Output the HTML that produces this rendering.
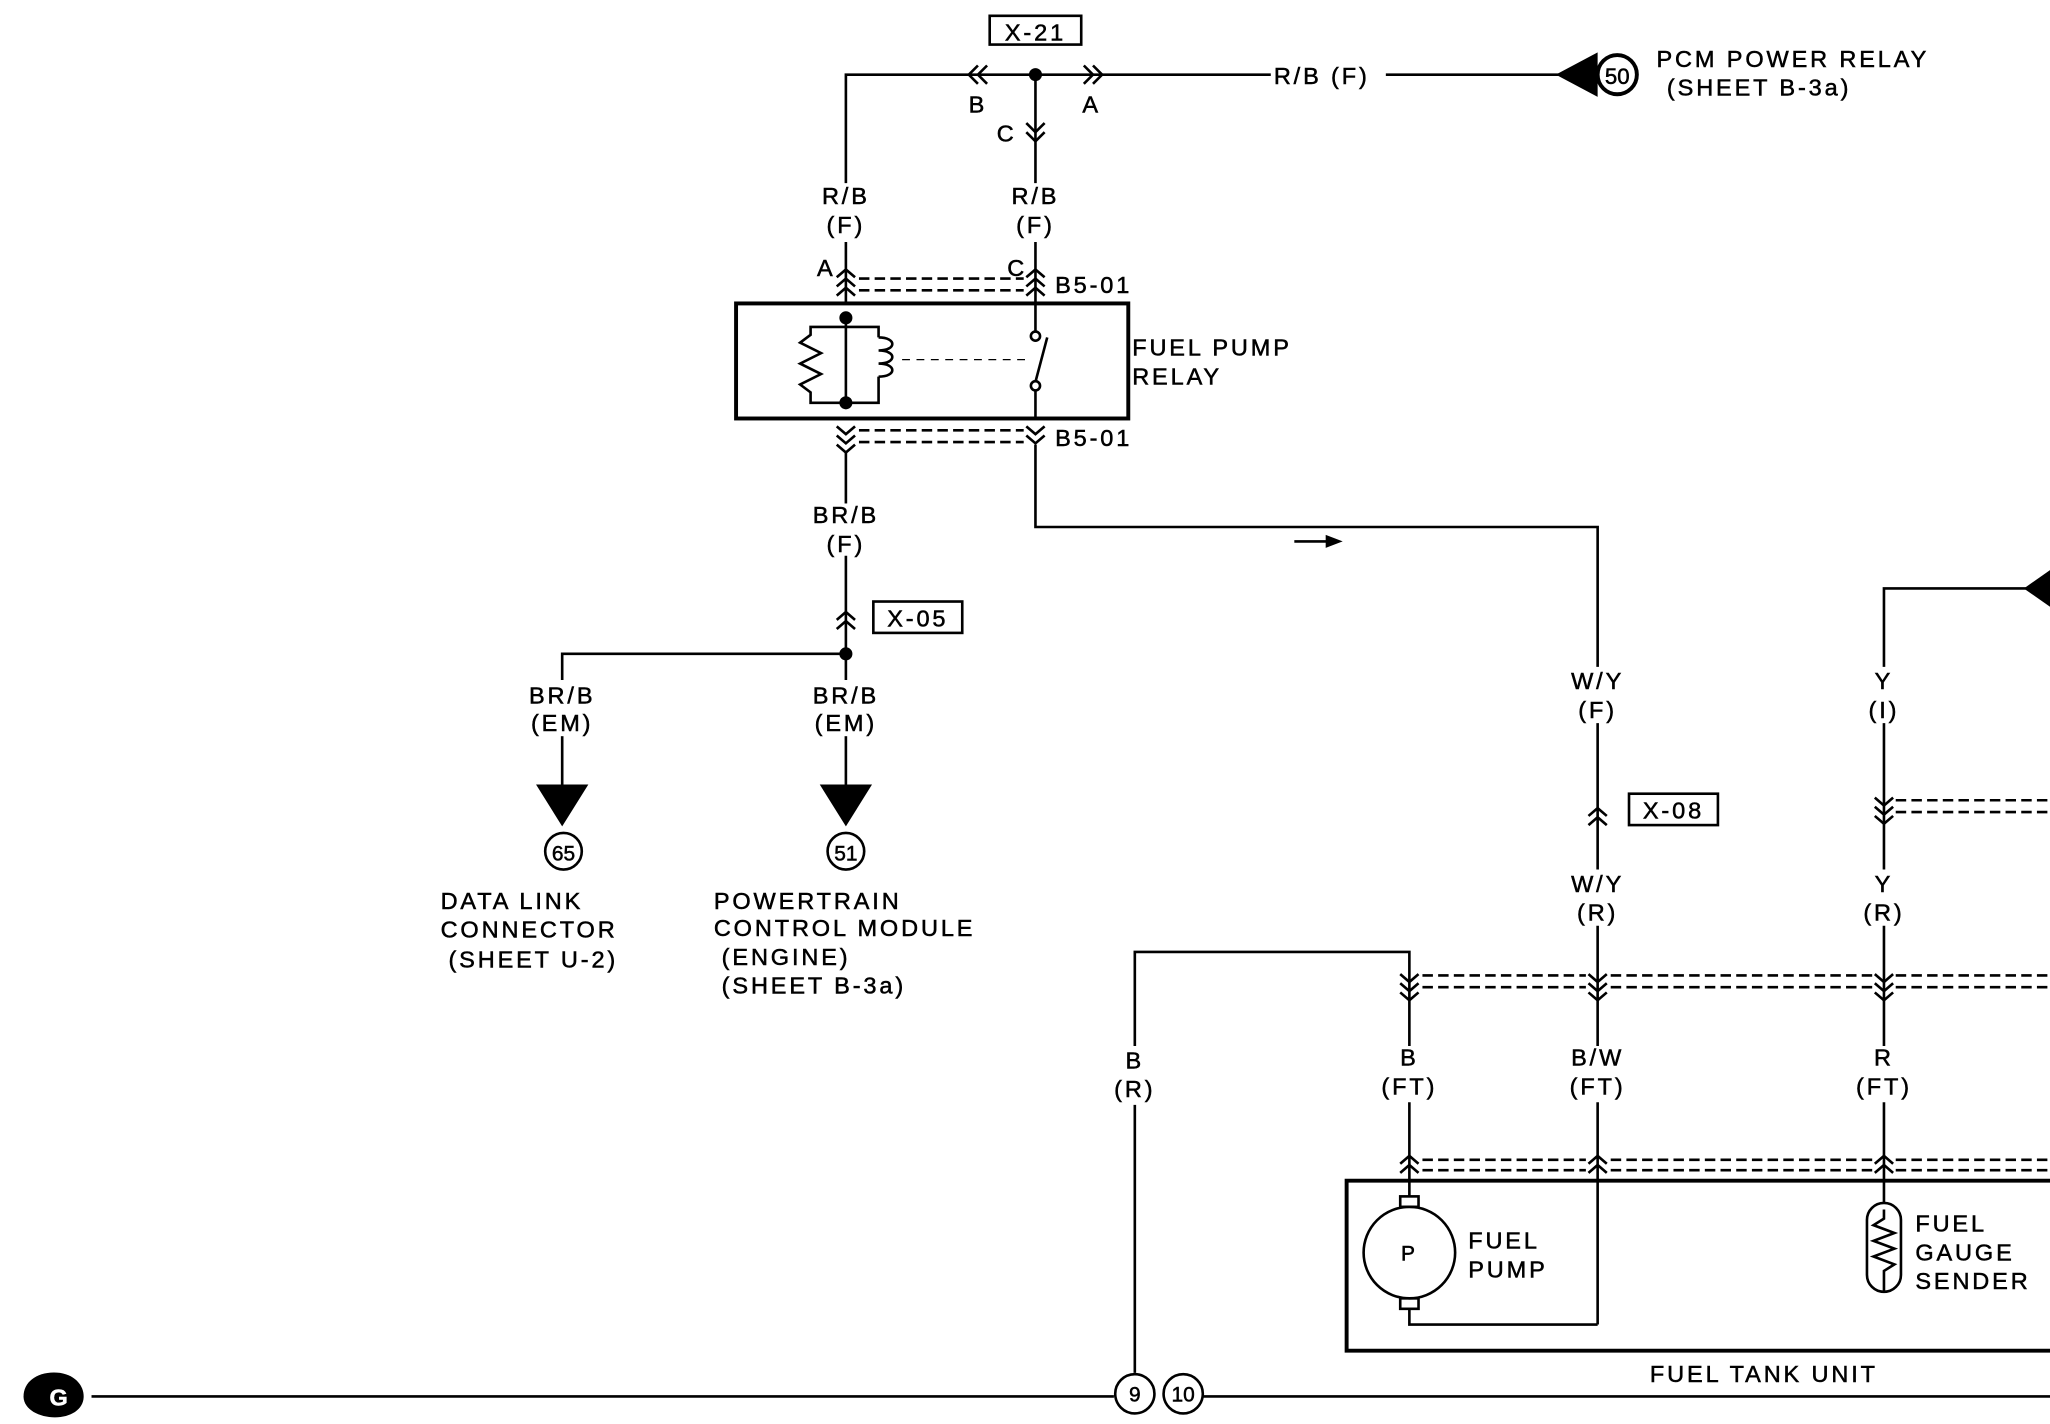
<!DOCTYPE html>
<html><head><meta charset="utf-8"><style>
html,body{margin:0;padding:0;background:#fff;}
svg{display:block;}
text{font-family:"Liberation Sans",sans-serif;font-size:18px;fill:#000;letter-spacing:2.2px;stroke:#000;stroke-width:0.4;}
.c{text-anchor:middle;}
</style></head><body>
<svg width="2050" height="1424" viewBox="0 0 1568 1089" xmlns="http://www.w3.org/2000/svg">
<g stroke="#000" stroke-width="2" fill="none">
<polyline points="647,140 647,57 972,57"/>
<line x1="647" y1="185" x2="647" y2="232"/>
<line x1="1060" y1="57" x2="1192" y2="57"/>
<rect x="757" y="12" width="70" height="22"/>
<path d="M748,50 l-7,7 l7,7 M755,50 l-7,7 l7,7"/>
<path d="M829,50 l7,7 l-7,7 M836,50 l7,7 l-7,7"/>
<line x1="792" y1="57" x2="792" y2="140"/>
<line x1="792" y1="185" x2="792" y2="232"/>
<path d="M785,94 l7,7 l7,-7 M785,101 l7,7 l7,-7"/>
<path d="M640,212 l7,-6 l7,6 M640,219 l7,-6 l7,6 M640,226 l7,-6 l7,6"/>
<path d="M785,212 l7,-6 l7,6 M785,219 l7,-6 l7,6 M785,226 l7,-6 l7,6"/>
<line x1="657" y1="213" x2="783" y2="213" stroke-dasharray="8,4"/>
<line x1="657" y1="222" x2="783" y2="222" stroke-dasharray="8,4"/>
<rect x="563" y="232" width="300" height="88" stroke-width="3"/>
<line x1="647" y1="243" x2="647" y2="308"/>
<polyline points="647,250 620,250 620,256 612,262 628,270 612,278 628,286 612,294 620,300 620,308 647,308"/>
<polyline points="647,250 672,250 672,258"/>
<path d="M672,258 c14,0 14,10 0,10 c14,0 14,10 0,10 c14,0 14,10 0,10"/>
<polyline points="672,288 672,308 647,308"/>
<line x1="690" y1="275" x2="785" y2="275" stroke-dasharray="6,5" stroke-width="1"/>
<line x1="792" y1="232" x2="792" y2="253"/>
<line x1="792" y1="299" x2="792" y2="320"/>
<circle cx="792" cy="257" r="3.5"/><circle cx="792" cy="295" r="3.5"/>
<line x1="792" y1="292" x2="801" y2="258"/>
<path d="M640,326 l7,6 l7,-6 M640,333 l7,6 l7,-6 M640,340 l7,6 l7,-6"/>
<path d="M785,326 l7,6 l7,-6 M785,333 l7,6 l7,-6"/>
<line x1="657" y1="329" x2="783" y2="329" stroke-dasharray="8,4"/>
<line x1="657" y1="338" x2="783" y2="338" stroke-dasharray="8,4"/>
<polyline points="647,346 647,385"/>
<line x1="647" y1="425" x2="647" y2="520"/>
<path d="M640,474 l7,-6 l7,6 M640,481 l7,-6 l7,6"/>
<rect x="668" y="460" width="68" height="24"/>
<polyline points="647,500 430,500 430,520"/>
<line x1="430" y1="563" x2="430" y2="600"/>
<line x1="647" y1="563" x2="647" y2="600" />
<polyline points="792,340 792,403 1222,403 1222,510"/>
<line x1="990" y1="414" x2="1022" y2="414"/>
<line x1="1222" y1="553" x2="1222" y2="665"/>
<path d="M1215,624 l7,-6 l7,6 M1215,631 l7,-6 l7,6"/>
<rect x="1246" y="607" width="68" height="24"/>
<polyline points="1441,510 1441,450 1555,450"/>
<line x1="1441" y1="553" x2="1441" y2="665"/>
<path d="M1434,610 l7,6 l7,-6 M1434,617 l7,6 l7,-6 M1434,624 l7,6 l7,-6"/>
<line x1="1450" y1="612" x2="1568" y2="612" stroke-dasharray="8,4"/>
<line x1="1450" y1="621" x2="1568" y2="621" stroke-dasharray="8,4"/>
<polyline points="868,800 868,728 1078,728 1078,800"/>
<line x1="868" y1="845" x2="868" y2="1050"/>
<line x1="1222" y1="708" x2="1222" y2="800"/>
<line x1="1441" y1="708" x2="1441" y2="800"/>
<path d="M1071,745 l7,6 l7,-6 M1071,752 l7,6 l7,-6 M1071,759 l7,6 l7,-6"/>
<path d="M1215,745 l7,6 l7,-6 M1215,752 l7,6 l7,-6 M1215,759 l7,6 l7,-6"/>
<path d="M1434,745 l7,6 l7,-6 M1434,752 l7,6 l7,-6 M1434,759 l7,6 l7,-6"/>
<line x1="1088" y1="746" x2="1213" y2="746" stroke-dasharray="8,4"/>
<line x1="1088" y1="755" x2="1213" y2="755" stroke-dasharray="8,4"/>
<line x1="1232" y1="746" x2="1432" y2="746" stroke-dasharray="8,4"/>
<line x1="1232" y1="755" x2="1432" y2="755" stroke-dasharray="8,4"/>
<line x1="1450" y1="746" x2="1568" y2="746" stroke-dasharray="8,4"/>
<line x1="1450" y1="755" x2="1568" y2="755" stroke-dasharray="8,4"/>
<line x1="1078" y1="843" x2="1078" y2="915"/>
<line x1="1222" y1="843" x2="1222" y2="1013"/>
<line x1="1441" y1="843" x2="1441" y2="920"/>
<path d="M1071,890 l7,-6 l7,6 M1071,897 l7,-6 l7,6"/>
<path d="M1215,890 l7,-6 l7,6 M1215,897 l7,-6 l7,6"/>
<path d="M1434,890 l7,-6 l7,6 M1434,897 l7,-6 l7,6"/>
<line x1="1088" y1="887" x2="1213" y2="887" stroke-dasharray="8,4"/>
<line x1="1088" y1="895" x2="1213" y2="895" stroke-dasharray="8,4"/>
<line x1="1232" y1="887" x2="1432" y2="887" stroke-dasharray="8,4"/>
<line x1="1232" y1="895" x2="1432" y2="895" stroke-dasharray="8,4"/>
<line x1="1450" y1="887" x2="1568" y2="887" stroke-dasharray="8,4"/>
<line x1="1450" y1="895" x2="1568" y2="895" stroke-dasharray="8,4"/>
<polyline points="1568,903 1030,903 1030,1033 1568,1033" stroke-width="3"/>
<rect x="1071" y="915" width="14" height="8"/>
<rect x="1071" y="993" width="14" height="8"/>
<circle cx="1078" cy="958" r="35"/>
<polyline points="1078,1001 1078,1013 1222,1013"/>
<rect x="1428" y="920" width="26" height="68" rx="13"/>
<polyline points="1441,925 1441,932 1433,937 1449,943 1433,949 1449,955 1433,961 1449,967 1441,972 1441,988"/>
<line x1="70" y1="1068" x2="852" y2="1068"/>
<line x1="920" y1="1068" x2="1568" y2="1068"/>
<circle cx="868" cy="1066" r="15"/><circle cx="905" cy="1066" r="15"/>
<circle cx="431" cy="651" r="14"/><circle cx="647" cy="651" r="14"/>
<circle cx="1237" cy="57" r="15" stroke-width="3"/>
</g>
<g fill="#000">
<circle cx="792" cy="57" r="5"/><circle cx="647" cy="243" r="5"/><circle cx="647" cy="308" r="5"/><circle cx="647" cy="500" r="5"/>
<polygon points="1190,57 1222,40 1222,74"/>
<polygon points="1548,450 1568,436 1568,464"/>
<polygon points="410,600 450,600 430,632"/>
<polygon points="627,600 667,600 647,632"/>
<polygon points="1014,409 1027,414 1014,419"/>
<path d="M18,1068 c0,-12 12,-20 28,-18 c12,2 18,10 18,18 c0,10 -10,16 -22,16 c-12,0 -24,-6 -24,-16z"/>
</g>
<text x="792" y="31" class="c">X-21</text>
<text x="1011" y="64" class="c">R/B (F)</text>
<text x="1267" y="51">PCM POWER RELAY</text>
<text x="1275" y="73">(SHEET B-3a)</text>
<text x="748" y="86" class="c">B</text><text x="835" y="86" class="c">A</text>
<text x="770" y="108" class="c">C</text>
<text x="647" y="156" class="c">R/B</text><text x="647" y="178" class="c">(F)</text>
<text x="792" y="156" class="c">R/B</text><text x="792" y="178" class="c">(F)</text>
<text x="632" y="211" class="c">A</text><text x="778" y="211" class="c">C</text>
<text x="807" y="224">B5-01</text>
<text x="807" y="341">B5-01</text>
<text x="866" y="272">FUEL PUMP</text><text x="866" y="294">RELAY</text>
<text x="647" y="400" class="c">BR/B</text><text x="647" y="422" class="c">(F)</text>
<text x="702" y="479" class="c">X-05</text>
<text x="430" y="538" class="c">BR/B</text><text x="430" y="559" class="c">(EM)</text>
<text x="647" y="538" class="c">BR/B</text><text x="647" y="559" class="c">(EM)</text>
<text x="431" y="658" class="c" style="font-size:16px;letter-spacing:0">65</text>
<text x="647" y="658" class="c" style="font-size:16px;letter-spacing:0">51</text>
<text x="1237" y="64" class="c" style="font-size:17px;letter-spacing:0">50</text>
<text x="337" y="695">DATA LINK</text><text x="337" y="717">CONNECTOR</text><text x="343" y="740">(SHEET U-2)</text>
<text x="546" y="695">POWERTRAIN</text><text x="546" y="716">CONTROL MODULE</text><text x="552" y="738">(ENGINE)</text><text x="552" y="760">(SHEET B-3a)</text>
<text x="1222" y="527" class="c">W/Y</text><text x="1222" y="549" class="c">(F)</text>
<text x="1441" y="527" class="c">Y</text><text x="1441" y="549" class="c">(I)</text>
<text x="1280" y="626" class="c">X-08</text>
<text x="1222" y="682" class="c">W/Y</text><text x="1222" y="704" class="c">(R)</text>
<text x="1441" y="682" class="c">Y</text><text x="1441" y="704" class="c">(R)</text>
<text x="868" y="817" class="c">B</text><text x="868" y="839" class="c">(R)</text>
<text x="1078" y="815" class="c">B</text><text x="1078" y="837" class="c">(FT)</text>
<text x="1222" y="815" class="c">B/W</text><text x="1222" y="837" class="c">(FT)</text>
<text x="1441" y="815" class="c">R</text><text x="1441" y="837" class="c">(FT)</text>
<text x="1078" y="964" class="c" style="font-size:16px">P</text>
<text x="1123" y="955">FUEL</text><text x="1123" y="977">PUMP</text>
<text x="1465" y="942">FUEL</text><text x="1465" y="964">GAUGE</text><text x="1465" y="986">SENDER</text>
<text x="1262" y="1057">FUEL TANK UNIT</text>
<text x="868" y="1072" class="c" style="font-size:16px;letter-spacing:0">9</text>
<text x="905" y="1072" class="c" style="font-size:16px;letter-spacing:0">10</text>
<text x="46" y="1075" class="c" style="fill:#fff;stroke:#fff;font-weight:bold">G</text>
</svg>
</body></html>
